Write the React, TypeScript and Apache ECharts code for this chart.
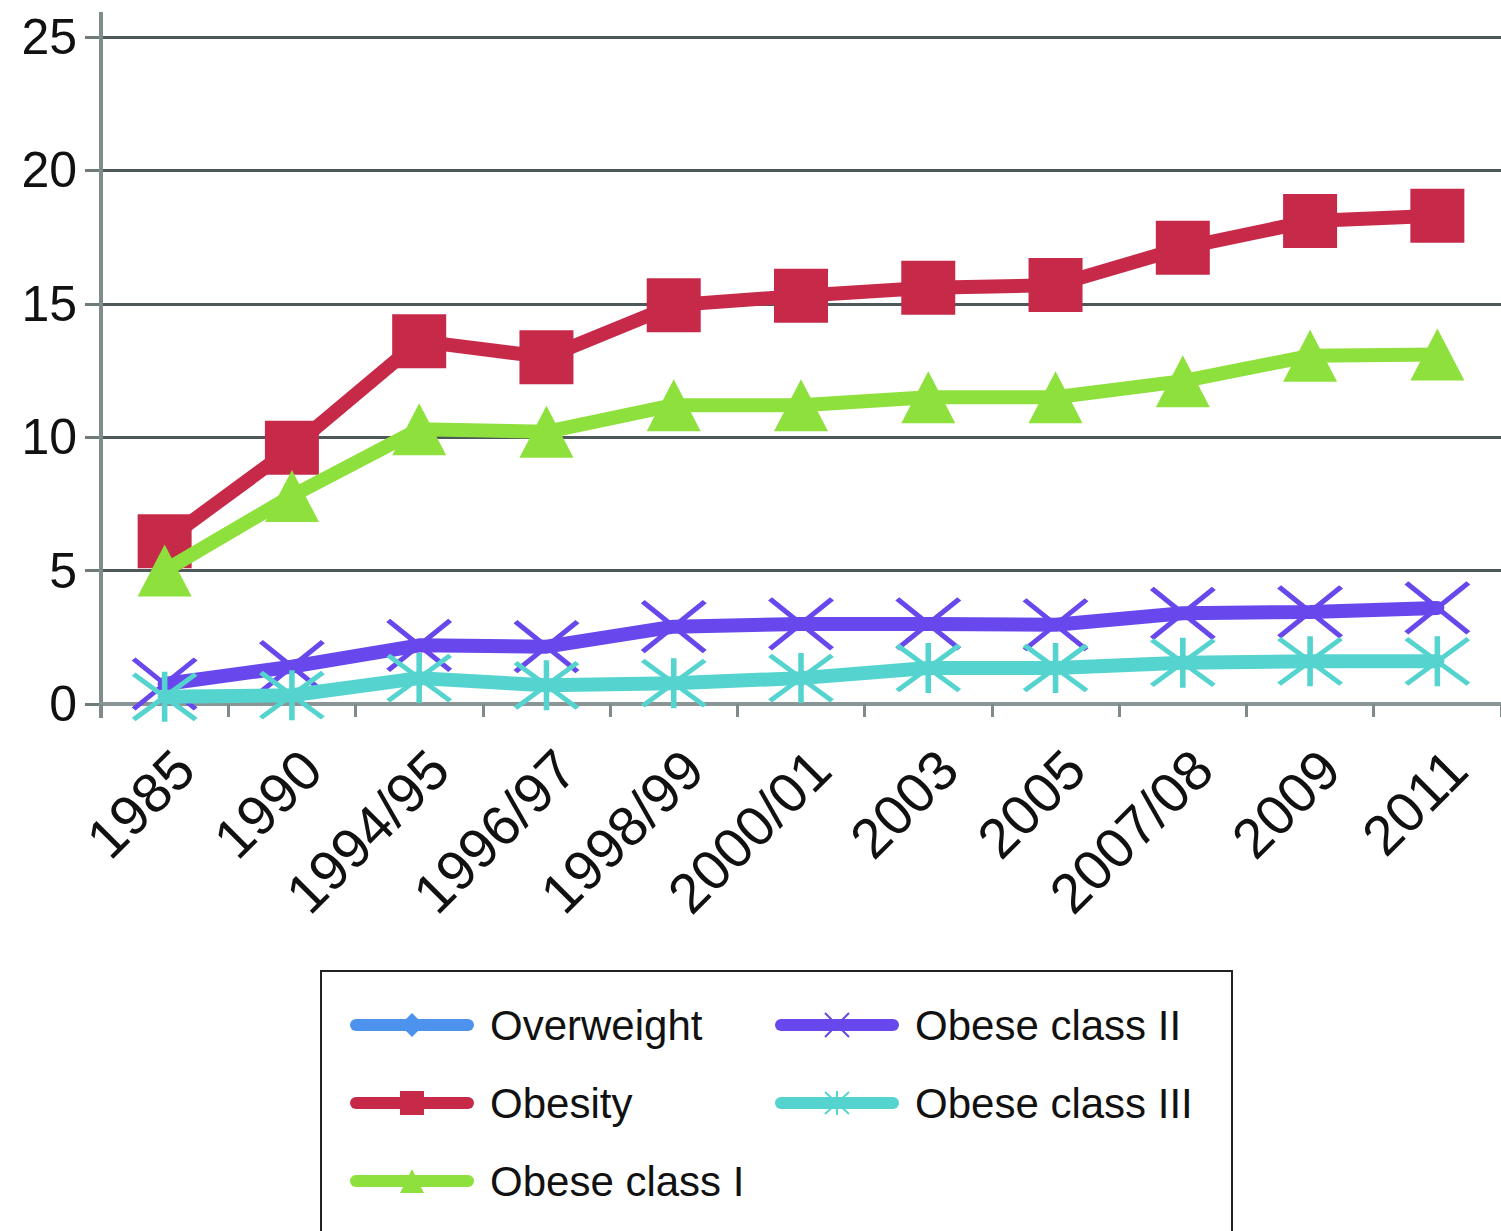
import React, { useEffect, useRef } from "react";
import * as echarts from "echarts";

const categories = ["1985", "1990", "1994/95", "1996/97", "1998/99", "2000/01", "2003", "2005", "2007/08", "2009", "2011"];
const overweight: (number | null)[] = [null, null, null, null, null, null, null, null, null, null, null];
const obesity = [6.1, 9.6, 13.6, 13.0, 14.95, 15.3, 15.6, 15.7, 17.1, 18.1, 18.3];
const obeseClassI = [5.0, 7.8, 10.3, 10.2, 11.2, 11.2, 11.5, 11.5, 12.1, 13.05, 13.1];
const obeseClassII = [0.75, 1.4, 2.2, 2.15, 2.9, 3.0, 3.0, 2.97, 3.4, 3.45, 3.6];
const obeseClassIII = [0.27, 0.33, 0.97, 0.7, 0.78, 0.97, 1.35, 1.35, 1.55, 1.6, 1.6];
const yTicks = { min: 0, max: 25, interval: 5 };

const FONT = "'Liberation Sans', Arial, Helvetica, sans-serif";
const X_PATH = "path://M0,0L12,10M12,0L0,10";
const STAR_PATH = "path://M0,0L12,10M12,0L0,10M6,-0.5L6,10.5";

export default function App() {
  const ref = useRef<HTMLDivElement>(null);
  useEffect(() => {
    if (!ref.current) return;
    const chart = echarts.init(ref.current, null, { renderer: "svg" });
    const lineW = 14;
    const legendCommon = {
      orient: "vertical",
      top: 999,
      itemWidth: 112,
      itemHeight: 30,
      itemGap: 36,
      lineStyle: { width: 12, cap: "round" },
      textStyle: { fontSize: 42, color: "#111", fontFamily: FONT, lineHeight: 42, padding: [0, 0, 0, 17] },
      selectedMode: false,
    };
    chart.setOption({
      animation: false,
      backgroundColor: "#ffffff",
      textStyle: { fontFamily: FONT },
      grid: { left: 101, right: -12, top: 37, bottom: 527, containLabel: false },
      xAxis: {
        type: "category",
        data: categories,
        boundaryGap: true,
        axisLine: { show: true, lineStyle: { color: "#8a9696", width: 4 } },
        axisTick: { show: true, length: 13, lineStyle: { color: "#7f8b8b", width: 3 } },
        axisLabel: {
          rotate: 45,
          fontSize: 56,
          color: "#111",
          margin: 36,
          fontFamily: FONT,
          interval: 0,
          verticalAlign: "top",
        },
        splitLine: { show: false },
        z: 5,
      },
      yAxis: {
        type: "value",
        min: yTicks.min,
        max: yTicks.max,
        interval: yTicks.interval,
        axisLine: { show: false },
        axisTick: { show: true, length: 16, lineStyle: { color: "#6f7a7a", width: 3 } },
        axisLabel: { fontSize: 50, color: "#111", margin: 24, fontFamily: FONT },
        splitLine: { show: true, lineStyle: { color: "#4f5858", width: 3 } },
      },
      legend: [
        { ...legendCommon, left: 345, data: ["Overweight", "Obesity", "Obese class I"] },
        { ...legendCommon, left: 770, data: ["Obese class II", "Obese class III"] },
      ],
      graphic: [
        {
          type: "rect",
          shape: { x: 321, y: 971, width: 911, height: 300 },
          style: { fill: "none", stroke: "#222", lineWidth: 2 },
          z: 1,
        },
        {
          type: "line",
          shape: { x1: 101, y1: 12, x2: 101, y2: 718 },
          style: { stroke: "#7f8c8c", lineWidth: 4 },
          z: 2,
        },
      ],
      series: [
        {
          name: "Overweight",
          type: "line",
          data: overweight,
          symbol: "diamond",
          symbolSize: 24,
          color: "#4d93ee",
          lineStyle: { width: lineW, color: "#4d93ee", cap: "round" },
        },
        {
          name: "Obesity",
          type: "line",
          data: obesity,
          symbol: "rect",
          symbolSize: 54,
          color: "#c72a48",
          itemStyle: { color: "#c72a48" },
          lineStyle: { width: lineW, color: "#c72a48", cap: "round" },
          z: 3,
        },
        {
          name: "Obese class I",
          type: "line",
          data: obeseClassI,
          symbol: "triangle",
          symbolSize: [54, 52],
          color: "#8ee03c",
          itemStyle: { color: "#8ee03c" },
          lineStyle: { width: lineW, color: "#8ee03c", cap: "round" },
          z: 4,
        },
        {
          name: "Obese class II",
          type: "line",
          data: obeseClassII,
          symbol: X_PATH,
          symbolKeepAspect: false,
          symbolSize: [62, 50],
          color: "#6847ec",
          itemStyle: { color: "#6847ec", borderColor: "#6847ec", borderWidth: 5 },
          lineStyle: { width: lineW, color: "#6847ec", cap: "round" },
          z: 5,
        },
        {
          name: "Obese class III",
          type: "line",
          data: obeseClassIII,
          symbol: STAR_PATH,
          symbolKeepAspect: false,
          symbolSize: [62, 50],
          color: "#55d4cf",
          itemStyle: { color: "#55d4cf", borderColor: "#55d4cf", borderWidth: 5 },
          lineStyle: { width: lineW, color: "#55d4cf", cap: "round" },
          z: 6,
        },
      ],
    });
    return () => chart.dispose();
  }, []);
  return (
    <div
      ref={ref}
      style={{ position: "absolute", left: 0, top: 0, width: 1501, height: 1231, background: "#fff" }}
    />
  );
}
